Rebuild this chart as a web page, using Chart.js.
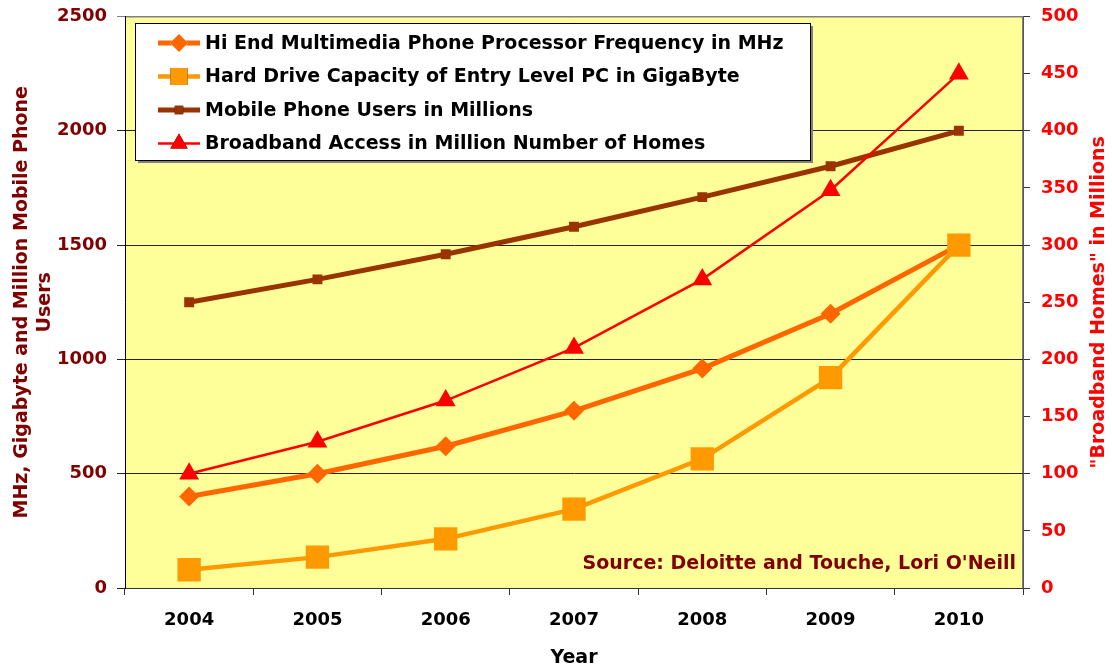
<!DOCTYPE html>
<html>
<head>
<meta charset="utf-8">
<title>Technology growth 2004-2010</title>
<script src="https://cdn.jsdelivr.net/npm/chart.js@4.4.1/dist/chart.umd.min.js"></script>
<style>
  html, body { margin: 0; padding: 0; background: #fff; }
  #wrap { width: 1112px; height: 669px; position: relative; }
</style>
</head>
<body>
<div id="wrap"><canvas id="growth"></canvas></div>
<script>
// --- data ---
const years = ['2004', '2005', '2006', '2007', '2008', '2009', '2010'];
const hiEndMhz = [400, 500, 620, 775, 960, 1200, 1500];
const hardDriveGb = [80, 135, 215, 345, 565, 920, 1500];
const mobileUsers = [1250, 1350, 1460, 1580, 1710, 1845, 2000];
const broadbandHomes = [100, 128, 164, 210, 270, 348, 450];

const FONT = '"DejaVu Sans", "Liberation Sans", Arial, sans-serif';
const DARK_RED = '#800000';

// plot background + frame
const plotBackground = {
  id: 'plotBackground',
  beforeDraw(chart) {
    const { ctx, chartArea: a } = chart;
    ctx.save();
    ctx.fillStyle = '#FFFF99';
    ctx.fillRect(a.left, a.top, a.width, a.height);
    ctx.strokeStyle = '#808080';
    ctx.lineWidth = 1;
    ctx.strokeRect(a.left + 0.5, a.top + 0.5, a.width - 1, a.height);
    ctx.restore();
  }
};

// boxed legend inside the plot, line sample with marker in the middle
const boxLegend = {
  id: 'boxLegend',
  afterDraw(chart) {
    const { ctx } = chart;
    const x = 135, y = 23, w = 675, h = 137;
    ctx.save();
    ctx.fillStyle = '#808080';
    ctx.fillRect(x + 3, y + 3, w, h);
    ctx.fillStyle = '#fff';
    ctx.fillRect(x, y, w, h);
    ctx.strokeStyle = '#000';
    ctx.lineWidth = 1;
    ctx.strokeRect(x + 0.5, y + 0.5, w, h);

    ctx.font = 'bold 19px ' + FONT;
    ctx.textBaseline = 'middle';
    chart.data.datasets.forEach((ds, i) => {
      const cy = 43 + i * 33.5;
      ctx.strokeStyle = ds.borderColor;
      ctx.lineWidth = ds.borderWidth;
      ctx.beginPath();
      ctx.moveTo(158, cy);
      ctx.lineTo(200, cy);
      ctx.stroke();
      Chart.helpers.drawPoint(ctx, {
        pointStyle: ds.pointStyle,
        radius: ds.legendRadius,
        rotation: 0,
        borderWidth: 0
      }, 179, cy);
      ctx.fillStyle = ds.borderColor;
      ctx.fill();
      ctx.fillStyle = '#000';
      ctx.fillText(ds.label, 205, cy + 1);
    });
    ctx.restore();
  }
};

// right axis title (reads bottom to top) and source note
const extraText = {
  id: 'extraText',
  afterDraw(chart) {
    const { ctx, chartArea: a } = chart;
    ctx.save();
    ctx.font = 'bold 19px ' + FONT;
    ctx.fillStyle = '#FF0000';
    ctx.textAlign = 'center';
    ctx.textBaseline = 'middle';
    ctx.translate(1099, (a.top + a.bottom) / 2);
    ctx.rotate(-Math.PI / 2);
    ctx.fillText('"Broadband Homes" in Millions', 0, 0);
    ctx.restore();

    ctx.save();
    ctx.font = 'bold 19px ' + FONT;
    ctx.fillStyle = DARK_RED;
    ctx.textAlign = 'right';
    ctx.textBaseline = 'middle';
    ctx.fillText("Source: Deloitte and Touche, Lori O'Neill", a.right - 7, 564);
    ctx.restore();
  }
};

const plainNumber = v => String(v);

// fixed axis sizes; drop the label overflow padding so the plot can start at the top
const fixWidth = w => s => { s.width = w; s.paddingTop = 0; s.paddingBottom = 0; };

new Chart(document.getElementById('growth'), {
  type: 'line',
  data: {
    labels: years,
    datasets: [
      {
        label: 'Hi End Multimedia Phone Processor Frequency in MHz',
        data: hiEndMhz,
        yAxisID: 'y',
        borderColor: '#FF6600',
        backgroundColor: '#FF6600',
        borderWidth: 5,
        pointStyle: 'rectRot',
        pointRadius: 10,
        legendRadius: 9,
        pointBorderWidth: 0,
        order: 4
      },
      {
        label: 'Hard Drive Capacity of Entry Level PC in GigaByte',
        data: hardDriveGb,
        yAxisID: 'y',
        borderColor: '#FF9900',
        backgroundColor: '#FF9900',
        borderWidth: 4.5,
        pointStyle: 'rect',
        pointRadius: 16.5,
        legendRadius: 12,
        pointBorderWidth: 0,
        order: 3
      },
      {
        label: 'Mobile Phone Users in Millions',
        data: mobileUsers,
        yAxisID: 'y',
        borderColor: '#993300',
        backgroundColor: '#993300',
        borderWidth: 5,
        pointStyle: 'rect',
        pointRadius: 7,
        legendRadius: 6,
        pointBorderWidth: 0,
        order: 2
      },
      {
        label: 'Broadband Access in Million Number of Homes',
        data: broadbandHomes,
        yAxisID: 'y2',
        borderColor: '#FF0000',
        backgroundColor: '#FF0000',
        borderWidth: 2.5,
        pointStyle: 'triangle',
        pointRadius: 11.5,
        legendRadius: 10,
        pointBorderWidth: 0,
        order: 1
      }
    ]
  },
  options: {
    responsive: true,
    maintainAspectRatio: false,
    animation: false,
    tension: 0,
    layout: { padding: { top: 12, left: 0, right: 0, bottom: 0 } },
    plugins: {
      legend: { display: false },
      tooltip: { enabled: false }
    },
    scales: {
      x: {
        offset: true,
        afterFit(s) { s.height = 81; },
        grid: {
          offset: true,
          drawOnChartArea: false,
          tickLength: 7,
          color: '#333'
        },
        border: { color: '#333', width: 1 },
        ticks: {
          padding: 15,
          color: '#000',
          font: { family: FONT, size: 18, weight: 'bold' }
        },
        title: {
          display: true,
          text: 'Year',
          color: '#000',
          padding: { top: 0, bottom: 0 },
          font: { family: FONT, size: 19, weight: 'bold' }
        }
      },
      y: {
        position: 'left',
        min: 0,
        max: 2500,
        afterFit: fixWidth(125),
        grid: {
          color: ctx => ctx.tick && ctx.tick.value === 2500 ? '#808080' : '#222',
          lineWidth: 1,
          tickLength: 8
        },
        border: { color: '#000', width: 1 },
        ticks: {
          stepSize: 500,
          padding: 10,
          color: DARK_RED,
          callback: plainNumber,
          font: { family: FONT, size: 18, weight: 'bold' }
        },
        title: {
          display: true,
          text: ['MHz, Gigabyte and Million Mobile Phone', 'Users'],
          color: DARK_RED,
          padding: { top: 11, bottom: 0 },
          font: { family: FONT, size: 19, weight: 'bold', lineHeight: 1.2 }
        }
      },
      y2: {
        position: 'right',
        min: 0,
        max: 500,
        afterFit: fixWidth(89),
        grid: {
          drawOnChartArea: false,
          tickLength: 7,
          color: '#333'
        },
        border: { color: '#555', width: 1 },
        ticks: {
          stepSize: 50,
          padding: 11,
          color: '#FF0000',
          callback: plainNumber,
          font: { family: FONT, size: 18, weight: 'bold' }
        }
      }
    }
  },
  plugins: [plotBackground, boxLegend, extraText]
});
</script>
</body>
</html>
